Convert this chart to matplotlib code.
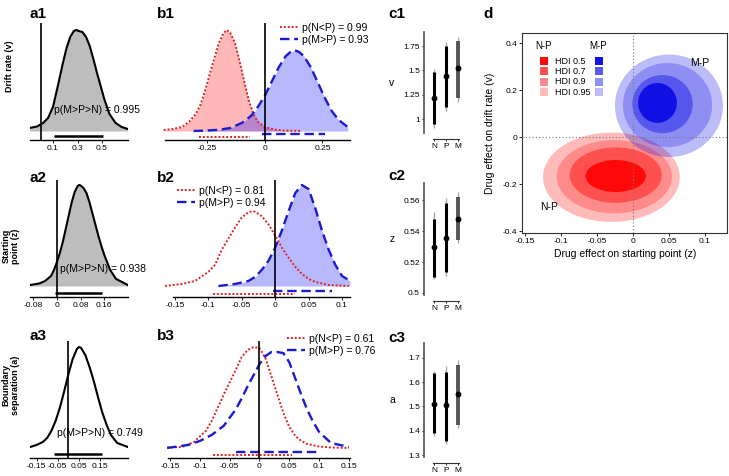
import matplotlib.pyplot as plt
from matplotlib.patches import Ellipse, Rectangle

plt.rcParams['font.family'] = ['Liberation Sans', 'DejaVu Sans']

# ---- column a: posterior of linear drug trend (heights relative to peak) ----
a1_x = [-0.09, -0.03, 0.02, 0.06, 0.10, 0.14, 0.18, 0.21, 0.24, 0.27, 0.29, 0.31,
        0.34, 0.37, 0.40, 0.43, 0.46, 0.49, 0.52, 0.56, 0.61, 0.66, 0.71]
a1_h = [0.03, 0.045, 0.08, 0.13, 0.24, 0.45, 0.67, 0.82, 0.93, 0.99, 1.0, 0.99,
        0.98, 0.93, 0.84, 0.71, 0.57, 0.44, 0.31, 0.17, 0.08, 0.04, 0.02]
a2_x = [-0.09, -0.06, -0.04, -0.02, -0.01, 0.0, 0.01, 0.02, 0.03, 0.04, 0.05, 0.06, 0.07,
        0.075, 0.08, 0.09, 0.10, 0.11, 0.12, 0.13, 0.14, 0.15, 0.16, 0.18, 0.20, 0.24]
a2_h = [0.01, 0.025, 0.05, 0.10, 0.16, 0.24, 0.33, 0.44, 0.57, 0.70, 0.83, 0.93, 0.99,
        1.0, 0.995, 0.97, 0.92, 0.83, 0.72, 0.61, 0.50, 0.40, 0.31, 0.16, 0.07, 0.01]
a3_x = [-0.18, -0.15, -0.12, -0.10, -0.08, -0.06, -0.04, -0.02, 0.0, 0.02, 0.04, 0.05,
        0.06, 0.08, 0.10, 0.12, 0.14, 0.16, 0.18, 0.20, 0.23, 0.28]
a3_h = [0.01, 0.03, 0.06, 0.10, 0.17, 0.27, 0.40, 0.56, 0.73, 0.88, 0.98, 1.0,
        0.99, 0.92, 0.80, 0.66, 0.50, 0.35, 0.23, 0.13, 0.05, 0.01]
a_hdi = [[0.11, 0.51], [-0.007, 0.152], [-0.07, 0.16]]
a_text = ['p(M>P>N) = 0.995', 'p(M>P>N) = 0.938', 'p(M>P>N) = 0.749']

# ---- column b: N-P (red) and M-P (blue) differences ----
b1_nx = [-0.44, -0.40, -0.36, -0.33, -0.30, -0.28, -0.26, -0.24, -0.22, -0.20, -0.18, -0.165,
         -0.15, -0.13, -0.11, -0.09, -0.07, -0.05, -0.03, 0.0, 0.04, 0.08, 0.16]
b1_nh = [0.01, 0.02, 0.04, 0.09, 0.17, 0.26, 0.40, 0.56, 0.72, 0.87, 0.97, 1.0,
         0.97, 0.87, 0.69, 0.49, 0.30, 0.17, 0.09, 0.04, 0.015, 0.005, 0.0]
b1_mx = [-0.31, -0.25, -0.20, -0.15, -0.10, -0.06, -0.03, 0.0, 0.03, 0.06, 0.09, 0.11,
         0.13, 0.15, 0.17, 0.20, 0.23, 0.26, 0.29, 0.32, 0.36]
b1_mh = [0.0, 0.005, 0.012, 0.03, 0.08, 0.15, 0.24, 0.35, 0.49, 0.63, 0.74, 0.78,
         0.80, 0.78, 0.74, 0.63, 0.48, 0.33, 0.20, 0.11, 0.04]
b2_nx = [-0.165, -0.14, -0.12, -0.10, -0.09, -0.08, -0.07, -0.06, -0.05, -0.04, -0.035, -0.03,
         -0.02, -0.01, 0.0, 0.01, 0.02, 0.03, 0.04, 0.05, 0.06, 0.08, 0.11]
b2_nh = [0.0, 0.02, 0.05, 0.14, 0.21, 0.36, 0.47, 0.58, 0.68, 0.73, 0.74, 0.735,
         0.69, 0.61, 0.50, 0.38, 0.28, 0.19, 0.12, 0.07, 0.04, 0.01, 0.0]
b2_mx = [-0.085, -0.06, -0.04, -0.03, -0.02, -0.01, 0.0, 0.01, 0.02, 0.03, 0.04, 0.05,
         0.06, 0.07, 0.08, 0.09, 0.10, 0.112]
b2_mh = [0.0, 0.02, 0.05, 0.09, 0.16, 0.25, 0.38, 0.55, 0.74, 0.92, 1.0, 0.96,
         0.77, 0.55, 0.36, 0.21, 0.10, 0.05]
b3_nx = [-0.155, -0.13, -0.11, -0.09, -0.08, -0.07, -0.06, -0.05, -0.04, -0.03, -0.02, -0.01,
         0.0, 0.01, 0.02, 0.03, 0.04, 0.05, 0.06, 0.07, 0.08, 0.10, 0.12, 0.15]
b3_nh = [0.005, 0.01, 0.06, 0.17, 0.27, 0.40, 0.53, 0.65, 0.77, 0.90, 0.97, 1.0,
         0.99, 0.89, 0.71, 0.53, 0.35, 0.21, 0.12, 0.07, 0.04, 0.015, 0.005, 0.0]
b3_mx = [-0.155, -0.12, -0.10, -0.08, -0.06, -0.04, -0.03, -0.02, -0.01, 0.0, 0.01, 0.02,
         0.03, 0.04, 0.05, 0.06, 0.07, 0.08, 0.09, 0.10, 0.12, 0.15]
b3_mh = [0.0, 0.03, 0.07, 0.13, 0.22, 0.38, 0.49, 0.61, 0.72, 0.83, 0.91, 0.95,
         0.95, 0.94, 0.85, 0.69, 0.53, 0.38, 0.26, 0.16, 0.05, 0.01]
b_hdi_n = [[-0.287, -0.065], [-0.093, 0.03], [-0.078, 0.055]]
b_hdi_m = [[-0.013, 0.26], [-0.003, 0.085], [-0.04, 0.097]]
b_leg_n = ['p(N<P) = 0.99', 'p(N<P) = 0.81', 'p(N<P) = 0.61']
b_leg_m = ['p(M>P) = 0.93', 'p(M>P) = 0.94', 'p(M>P) = 0.76']

# ---- column c: group means with HDIs ----
groups = ['N', 'P', 'M']
c1_mean = [1.22, 1.44, 1.52]
c1_in = [[0.95, 1.12, 1.22], [1.48, 1.75, 1.80]]
c1_out = [[0.91, 1.08, 1.18], [1.51, 1.79, 1.84]]
c2_mean = [0.530, 0.5355, 0.548]
c2_in = [[0.510, 0.5135, 0.534], [0.548, 0.558, 0.562]]
c2_out = [[0.509, 0.511, 0.532], [0.552, 0.561, 0.565]]
c3_mean = [1.508, 1.505, 1.55]
c3_in = [[1.39, 1.356, 1.425], [1.636, 1.64, 1.67]]
c3_out = [[1.38, 1.345, 1.41], [1.645, 1.665, 1.69]]

# ---- panel d: joint HDI regions (centre x, centre y, half width, half height) ----
hdi_levels = ['HDI 0.5', 'HDI 0.7', 'HDI 0.9', 'HDI 0.95']
np_regions = [[-0.024, -0.166, 0.042, 0.068], [-0.024, -0.162, 0.064, 0.118],
              [-0.026, -0.169, 0.080, 0.156], [-0.030, -0.171, 0.095, 0.190]]
mp_regions = [[0.034, 0.145, 0.027, 0.085], [0.041, 0.140, 0.042, 0.124],
              [0.048, 0.136, 0.062, 0.179], [0.050, 0.133, 0.075, 0.218]]

RED = '#e32020'
BLUE = '#1a1ad0'
W, H = 729, 476
fig = plt.figure(figsize=(W / 100, H / 100), dpi=100)


def px_axes(left, top, right, bottom):
    return fig.add_axes([left / W, 1 - bottom / H, (right - left) / W, (bottom - top) / H])


def dist_axes(ax, xlim, ylim, ticks, labels, lo=None):
    ax.set_xlim(xlim)
    ax.set_ylim(ylim)
    ax.patch.set_visible(False)
    for s in ['top', 'right', 'left']:
        ax.spines[s].set_visible(False)
    ax.spines['bottom'].set_linewidth(1.0)
    if lo is not None:
        ax.spines['bottom'].set_bounds(lo, xlim[1])
    ax.set_yticks([])
    ax.set_xticks(ticks)
    ax.set_xticklabels(labels, fontsize=6)
    ax.tick_params(axis='x', length=2, width=0.6, pad=1.5)
    ax.axvline(0, color='black', lw=1.2, zorder=5)


rows_y = [(23, 140, 131), (180, 297, 286), (341, 458, 448)]  # top, axis, baseline (px)
pxu = 101.0

# column a
a_curves = [(a1_x, a1_h), (a2_x, a2_h), (a3_x, a3_h)]
a_lims = [(-0.088, 0.712), (-0.0915, 0.2407), (-0.181, 0.281)]
a_ticks = [([0.1, 0.3, 0.5], ['0.1', '0.3', '0.5']),
           ([-0.08, 0, 0.08, 0.16], ['-0.08', '0', '0.08', '0.16']),
           ([-0.15, -0.05, 0.05, 0.15], ['-0.15', '-0.05', '0.05', '0.15'])]
a_fill = [True, True, False]
a_txt_pos = [(0.108, 0.18), (0.01, 0.14), (-0.052, 0.12)]
for i in range(3):
    top, axis, base = rows_y[i]
    ylim = (-(axis - base) / pxu, (base - top) / pxu)
    ax = px_axes(30, top, 128, axis)
    dist_axes(ax, a_lims[i], ylim, *a_ticks[i])
    x, h = a_curves[i]
    if a_fill[i]:
        ax.fill_between(x, 0, h, color='#bdbdbd', lw=0)
    ax.text(a_txt_pos[i][0], a_txt_pos[i][1], a_text[i], fontsize=7.5, va='baseline')
    ax.plot(x, h, color='black', lw=1.5)
    hy = -(axis - base - 4) / pxu
    ax.plot(a_hdi[i], [hy, hy], color='black', lw=1.8, solid_capstyle='butt')

# column b
b_curves = [(b1_nx, b1_nh, b1_mx, b1_mh), (b2_nx, b2_nh, b2_mx, b2_mh),
            (b3_nx, b3_nh, b3_mx, b3_mh)]
b_lims = [(-0.443, 0.37), (-0.168, 0.112), (-0.162, 0.152)]
b_lo = [-0.435, -0.153, -0.153]
b_ticks = [([-0.25, 0, 0.25], ['-0.25', '0', '0.25']),
           ([-0.15, -0.1, -0.05, 0, 0.05, 0.1], ['-0.15', '-0.1', '-0.05', '0', '0.05', '0.1']),
           ([-0.15, -0.1, -0.05, 0, 0.05, 0.1, 0.15],
            ['-0.15', '-0.1', '-0.05', '0', '0.05', '0.1', '0.15'])]
b_fill_n = [True, False, False]
b_fill_m = [True, True, False]
b_leg_pos = [(280, 23), (177, 186), (287, 334)]
for i in range(3):
    top, axis, base = rows_y[i]
    ylim = (-(axis - base) / pxu, (base - top) / pxu)
    ax = px_axes(163, top, 350, axis)
    dist_axes(ax, b_lims[i], ylim, *b_ticks[i], lo=b_lo[i])
    nx, nh, mx, mh = b_curves[i]
    if b_fill_n[i]:
        ax.fill_between(nx, 0, nh, color='red', alpha=0.28, lw=0)
    if b_fill_m[i]:
        ax.fill_between(mx, 0, mh, color='blue', alpha=0.28, lw=0)
    ln, = ax.plot(nx, nh, color=RED, lw=1.4, ls=(0, (1, 1)), label=b_leg_n[i])
    lm, = ax.plot(mx, mh, color=BLUE, lw=1.7, ls=(0, (4, 2)), label=b_leg_m[i])
    yn = -(axis - base - 3) / pxu
    ym = -(axis - base - 6) / pxu
    ax.plot(b_hdi_n[i], [yn, yn], color=RED, lw=1.4, ls=(0, (1, 1)))
    ax.plot(b_hdi_m[i], [ym, ym], color=BLUE, lw=1.7, ls=(0, (4, 2)))
    lx, ly = b_leg_pos[i]
    ax.legend(handles=[ln, lm], loc='upper left', bbox_to_anchor=(lx / W, 1 - ly / H),
              bbox_transform=fig.transFigure, frameon=False, fontsize=7.5,
              handlelength=1.7, handletextpad=0.4, labelspacing=0.15,
              borderpad=0, borderaxespad=0)

# column c
c_sets = [(c1_mean, c1_in, c1_out, (0.856, 1.895), [1, 1.25, 1.5, 1.75],
           ['1', '1.25', '1.5', '1.75'], 'v'),
          (c2_mean, c2_in, c2_out, (0.4987, 0.571), [0.5, 0.52, 0.54, 0.56],
           ['0.5', '0.52', '0.54', '0.56'], 'z'),
          (c3_mean, c3_in, c3_out, (1.292, 1.761), [1.3, 1.4, 1.5, 1.6, 1.7],
           ['1.3', '1.4', '1.5', '1.6', '1.7'], 'a')]
c_rows = [(32, 133), (183, 295), (343, 457)]
pos = [1, 2, 3]
for i in range(3):
    mean, cin, cout, ylim, ticks, labels, name = c_sets[i]
    top, bot = c_rows[i]
    ax = px_axes(424, top, 468, bot)
    ax.set_xlim(0.17, 3.83)
    ax.set_ylim(ylim)
    ax.patch.set_visible(False)
    ax.vlines(pos, cout[0], cout[1], color='#a8a8a8', lw=1.0)
    ax.vlines(pos, cin[0], cin[1], colors=['black', 'black', '#555555'], lw=[2.2, 2.2, 2.8])
    ax.plot(pos, mean, 'o', color='black', ms=3.2)
    for s in ['top', 'right']:
        ax.spines[s].set_visible(False)
    ax.spines['left'].set_color('#505050')
    ax.spines['left'].set_linewidth(1.2)
    ax.spines['bottom'].set_position(('outward', 4))
    ax.spines['bottom'].set_bounds(0.92, 3.08)
    ax.spines['bottom'].set_color('#303030')
    ax.set_yticks(ticks)
    ax.set_yticklabels(labels, fontsize=6)
    ax.set_xticks(pos)
    ax.set_xticklabels(groups, fontsize=6)
    ax.tick_params(length=1.5, width=0.6, pad=1.5)
    fig.text(392 / W, 1 - (top + bot) / 2 / H, name, fontsize=7.5, ha='center', va='center')

# panel d
ax = px_axes(522, 33, 727, 233)
ax.set_xlim(-0.1542, 0.1306)
ax.set_ylim(-0.4085, 0.4426)
layer_alpha = [0.9, 0.42, 0.25, 0.27]   # inner to outer, stacked
for regions, col in [(np_regions, '#ff0000'), (mp_regions, '#0a0ae6')]:
    for j in range(3, -1, -1):
        cx, cy, hw, hh = regions[j]
        ax.add_patch(Ellipse((cx, cy), 2 * hw, 2 * hh, facecolor=col,
                             alpha=layer_alpha[j], lw=0))
ax.axvline(0, color='#777777', lw=0.8, ls=(0, (1, 2)), zorder=5)
ax.axhline(0, color='#777777', lw=0.8, ls=(0, (1, 2)), zorder=5)
ax.set_xticks([-0.15, -0.1, -0.05, 0, 0.05, 0.1])
ax.set_xticklabels(['-0.15', '-0.1', '-0.05', '0', '0.05', '0.1'], fontsize=6)
ax.set_yticks([-0.4, -0.2, 0, 0.2, 0.4])
ax.set_yticklabels(['-0.4', '-0.2', '0', '0.2', '0.4'], fontsize=6)
ax.tick_params(length=2, width=0.6, pad=1.5)
for s in ax.spines.values():
    s.set_linewidth(0.8)
    s.set_color('#333333')
ax.text(0.093, 0.317, 'M-P', fontsize=7.5, ha='center', va='center')
ax.text(-0.117, -0.298, 'N-P', fontsize=7.5, ha='center', va='center')

# manual legend for the HDI levels
cum = []
keep = 1.0
for a in layer_alpha[::-1]:
    keep *= (1 - a)
    cum.append(1 - keep)
cum = cum[::-1]
ax.text(0.107, 0.935, 'N-P', fontsize=7, ha='center', va='center', transform=ax.transAxes)
ax.text(0.373, 0.935, 'M-P', fontsize=7, ha='center', va='center', transform=ax.transAxes)
for j, lab in enumerate(hdi_levels):
    yy = 0.86 - 0.052 * j
    ax.add_patch(Rectangle((0.088, yy - 0.02), 0.039, 0.04, facecolor='#ff0000',
                           alpha=cum[j], lw=0, transform=ax.transAxes))
    ax.add_patch(Rectangle((0.354, yy - 0.02), 0.039, 0.04, facecolor='#0a0ae6',
                           alpha=cum[j], lw=0, transform=ax.transAxes))
    ax.text(0.161, yy, lab, fontsize=6.5, va='center', transform=ax.transAxes)

fig.text(625 / W, 1 - 254 / H, 'Drug effect on starting point (z)', fontsize=7.5,
         ha='center', va='center')
fig.text(490 / W, 1 - 133 / H, 'Drug effect on drift rate (v)', fontsize=7.5,
         ha='center', va='center', rotation=90)

# panel letters and row labels
for lab, x, y in [('a1', 29, 18), ('b1', 157, 18), ('c1', 388, 18), ('d', 483, 18),
                  ('a2', 30, 182), ('b2', 157, 182), ('c2', 388, 180),
                  ('a3', 30, 340), ('b3', 157, 340), ('c3', 388, 342)]:
    fig.text(x / W, 1 - y / H, lab, fontsize=11, fontweight='bold', va='baseline')
for lab, x, y in [('Drift rate (v)', 10, 66), ('Starting\npoint (z)', 11, 246),
                  ('Boundary\nseparation (a)', 11, 385)]:
    fig.text(x / W, 1 - y / H, lab, fontsize=6.5, fontweight='bold', rotation=90,
             ha='center', va='center', linespacing=1.1)

fig.savefig('out.png', dpi=100)
